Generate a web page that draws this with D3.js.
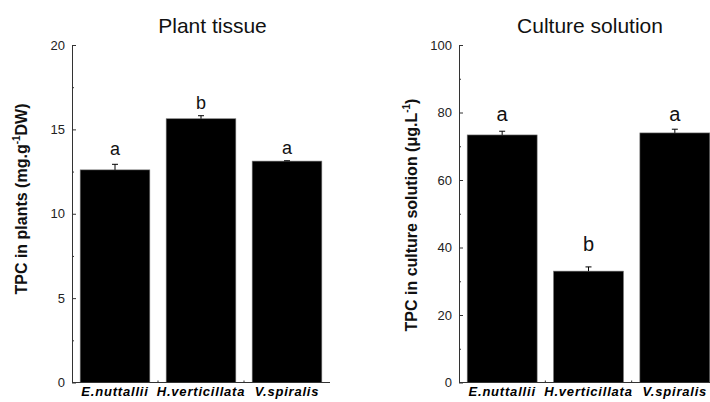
<!DOCTYPE html>
<html>
<head>
<meta charset="utf-8">
<script src="https://cdn.jsdelivr.net/npm/d3@7"></script>
<style>
  body { margin: 0; background: #fff; }
  text { font-family: "Liberation Sans", Arial, sans-serif; }
</style>
</head>
<body>
<div id="chart"></div>
<script>
// categories
const species = ['E.nuttallii', 'H.verticillata', 'V.spiralis']

// Plant tissue panel
const tissueMean = [12.6, 15.63, 13.12]
const tissueErr = [0.33, 0.18, 0.02]
const tissueLetters = ['a', 'b', 'a']
const tissueLetterAt = [13.5, 16.2, 13.55]
const tissueTicks = [0, 5, 10, 15, 20]
const tissueMinor = [2.5, 7.5, 12.5, 17.5]

// Culture solution panel
const solutionMean = [73.35, 33.0, 73.95]
const solutionErr = [1.1, 1.25, 1.1]
const solutionLetters = ['a', 'b', 'a']
const solutionLetterAt = [77.6, 39.1, 77.6]
const solutionTicks = [0, 20, 40, 60, 80, 100]
const solutionMinor = [10, 30, 50, 70, 90]

let width = 710
let height = 402

let svg = d3
  .select('#chart')
  .append('svg')
  .attr('width', width)
  .attr('height', height)

function drawPanel(p) {
  let g = svg.append('g')

  let y = d3.scaleLinear()
    .domain([p.ticks[0], p.ticks[p.ticks.length - 1]])
    .range([p.bottom, p.top])

  let x = d3.scaleBand()
    .domain(species)
    .range([p.left, p.right])
    .paddingInner(0.19)
    .paddingOuter(0.095)

  // minor y ticks
  g.append('g')
    .attr('transform', `translate(${p.left},0)`)
    .call(d3.axisLeft(y).tickValues(p.minor).tickSizeInner(-2).tickSizeOuter(0).tickFormat(''))
    .call(a => a.select('.domain').remove())
    .selectAll('line').attr('stroke', '#333')

  // major y ticks
  let yAxis = g.append('g')
    .attr('transform', `translate(${p.left},0)`)
    .call(d3.axisLeft(y).tickValues(p.ticks).tickSizeInner(-4).tickSizeOuter(0).tickPadding(7))
  yAxis.select('.domain').attr('stroke', '#333')
  yAxis.selectAll('line').attr('stroke', '#333')
  yAxis.selectAll('text')
    .attr('font-size', 13)
    .attr('fill', '#222')
    .attr('font-family', '"Liberation Sans", Arial, sans-serif')

  // bars
  g.selectAll('.bar')
    .data(p.mean)
    .enter()
    .append('rect')
    .attr('class', 'bar')
    .attr('x', (d, i) => x(species[i]))
    .attr('width', x.bandwidth())
    .attr('y', d => y(d))
    .attr('height', d => y(p.ticks[0]) - y(d))
    .attr('fill', '#000')
    .attr('stroke', '#777')
    .attr('stroke-width', 0.6)

  // error bars (upper only)
  let eb = g.selectAll('.err')
    .data(p.mean)
    .enter()
    .append('g')
    .attr('class', 'err')
    .attr('transform', (d, i) => `translate(${x(species[i]) + x.bandwidth() / 2},0)`)
  eb.append('line')
    .attr('y1', d => y(d))
    .attr('y2', (d, i) => y(d + p.err[i]))
    .attr('stroke', '#000')
  eb.append('line')
    .attr('x1', -3)
    .attr('x2', 3)
    .attr('y1', (d, i) => y(d + p.err[i]))
    .attr('y2', (d, i) => y(d + p.err[i]))
    .attr('stroke', '#000')

  // significance letters
  g.selectAll('.letter')
    .data(p.letters)
    .enter()
    .append('text')
    .attr('class', 'letter')
    .attr('x', (d, i) => x(species[i]) + x.bandwidth() / 2)
    .attr('y', (d, i) => y(p.letterAt[i]))
    .attr('text-anchor', 'middle')
    .attr('font-size', p.letterSize)
    .attr('fill', '#111')
    .text(d => d)

  // x axis line with small ticks between categories
  g.append('line')
    .attr('x1', p.left)
    .attr('x2', p.right)
    .attr('y1', y(p.ticks[0]))
    .attr('y2', y(p.ticks[0]))
    .attr('stroke', '#333')
  g.selectAll('.xtick')
    .data(species.slice(1))
    .enter()
    .append('line')
    .attr('x1', d => x(d) - x.step() * x.paddingInner() / 2)
    .attr('x2', d => x(d) - x.step() * x.paddingInner() / 2)
    .attr('y1', y(p.ticks[0]))
    .attr('y2', y(p.ticks[0]) - 2)
    .attr('stroke', '#333')

  // category labels
  g.selectAll('.cat')
    .data(species)
    .enter()
    .append('text')
    .attr('class', 'cat')
    .attr('x', d => x(d) + x.bandwidth() / 2)
    .attr('y', 396)
    .attr('text-anchor', 'middle')
    .attr('font-size', 13)
    .attr('font-weight', 'bold')
    .attr('font-style', 'italic')
    .attr('letter-spacing', 0.8)
    .text(d => d)

  // title
  g.append('text')
    .attr('x', p.titleX)
    .attr('y', 33)
    .attr('text-anchor', 'middle')
    .attr('font-size', 21)
    .attr('fill', '#111')
    .text(p.title)

  // y label
  let yl = g.append('text')
    .attr('transform', `translate(${p.labelX},${p.labelY}) rotate(-90)`)
    .attr('text-anchor', 'middle')
    .attr('font-size', 16)
    .attr('font-weight', 'bold')
    .attr('fill', '#111')
  yl.append('tspan').text(p.label[0])
  yl.append('tspan').attr('font-size', 10).attr('dy', -7).text('-1')
  yl.append('tspan').attr('dy', 7).text(p.label[1])
}

drawPanel({
  title: 'Plant tissue',
  titleX: 212.5,
  label: ['TPC in plants (mg.g', 'DW)'],
  labelX: 27,
  labelY: 199,
  mean: tissueMean,
  err: tissueErr,
  letters: tissueLetters,
  letterAt: tissueLetterAt,
  letterSize: 18,
  ticks: tissueTicks,
  minor: tissueMinor,
  left: 72,
  right: 330,
  top: 45,
  bottom: 382.5
})

drawPanel({
  title: 'Culture solution',
  titleX: 590,
  label: ['TPC in culture solution (\u03bcg.L', ')'],
  labelX: 416.5,
  labelY: 215,
  mean: solutionMean,
  err: solutionErr,
  letters: solutionLetters,
  letterAt: solutionLetterAt,
  letterSize: 20,
  ticks: solutionTicks,
  minor: solutionMinor,
  left: 459,
  right: 718,
  top: 45,
  bottom: 382.5
})
</script>
</body>
</html>
